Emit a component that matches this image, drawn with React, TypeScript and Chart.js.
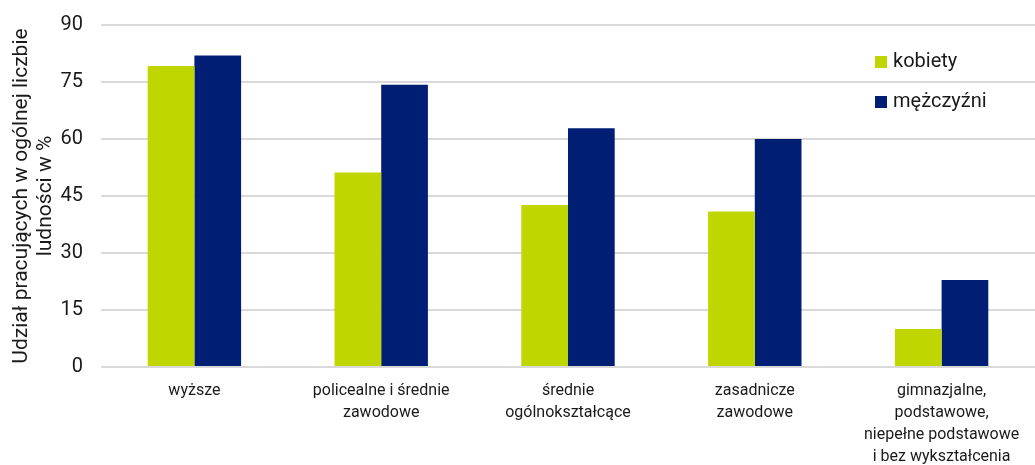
import React, { useEffect, useRef } from "react";
import { Chart, registerables } from "chart.js";

Chart.register(...registerables);

const categories: (string | string[])[] = [
  "wyższe",
  ["policealne i średnie", "zawodowe"],
  ["średnie", "ogólnokształcące"],
  ["zasadnicze", "zawodowe"],
  ["gimnazjalne,", "podstawowe,", "niepełne podstawowe", "i bez wykształcenia"],
];
const kobiety = [79.2, 51.2, 42.6, 40.9, 10.0];
const mezczyzni = [82.0, 74.3, 62.8, 60.0, 22.9];
const seriesNames = ["kobiety", "mężczyźni"];
const yTitle = ["Udział pracujących w ogólnej liczbie", "ludności w %"];

const GREEN = "#BFD600";
const NAVY = "#001E74";
const FONT = "Roboto";
const TEXT = "#1a1a1a";

const legendPlugin = {
  id: "insideLegend",
  afterDraw(chart: any) {
    const { ctx, chartArea } = chart;
    const x = chartArea.right - 160;
    const ys = [chartArea.top + 37, chartArea.top + 77];
    ctx.save();
    chart.data.datasets.forEach((ds: any, i: number) => {
      ctx.fillStyle = ds.backgroundColor;
      ctx.fillRect(x, ys[i] - 6, 12, 12);
      ctx.fillStyle = TEXT;
      ctx.font = `20px ${FONT}`;
      ctx.textBaseline = "middle";
      ctx.textAlign = "left";
      ctx.fillText(ds.label, x + 18, ys[i]);
    });
    ctx.restore();
  },
};

export default function App() {
  const ref = useRef<HTMLCanvasElement>(null);
  useEffect(() => {
    const chart = new Chart(ref.current!, {
      type: "bar",
      data: {
        labels: categories,
        datasets: [
          { label: seriesNames[0], data: kobiety, backgroundColor: GREEN, categoryPercentage: 0.5, barPercentage: 1 },
          { label: seriesNames[1], data: mezczyzni, backgroundColor: NAVY, categoryPercentage: 0.5, barPercentage: 1 },
        ],
      },
      options: {
        animation: false,
        responsive: false,
        maintainAspectRatio: false,
        layout: { padding: { top: 25, left: 0, right: 0, bottom: 0 } },
        plugins: { legend: { display: false }, tooltip: { enabled: false } },
        scales: {
          x: {
            grid: { display: false, drawTicks: false },
            border: { display: false },
            ticks: { color: TEXT, font: { family: FONT, size: 16, lineHeight: 1.375 }, padding: 13, maxRotation: 0, autoSkip: false },
            afterFit: (s: any) => { s.height = 98; },
          },
          y: {
            min: 0,
            max: 90,
            ticks: { stepSize: 15, color: TEXT, font: { family: FONT, size: 20 }, padding: 8 },
            grid: { color: "#D9D9D9", lineWidth: 2, drawTicks: true, tickLength: 10, tickColor: "rgba(0,0,0,0)" },
            border: { display: false },
            title: { display: true, text: yTitle, color: TEXT, font: { family: FONT, size: 21, lineHeight: 1.15 }, padding: { top: 10, bottom: 0 } },
            afterFit: (s: any) => { s.width = 101; },
          },
        },
      },
      plugins: [legendPlugin],
    });
    return () => chart.destroy();
  }, []);
  return (
    <div style={{ position: "absolute", left: 0, top: 0, width: 1035, height: 465 }}>
      <canvas ref={ref} width={1035} height={465} />
    </div>
  );
}
